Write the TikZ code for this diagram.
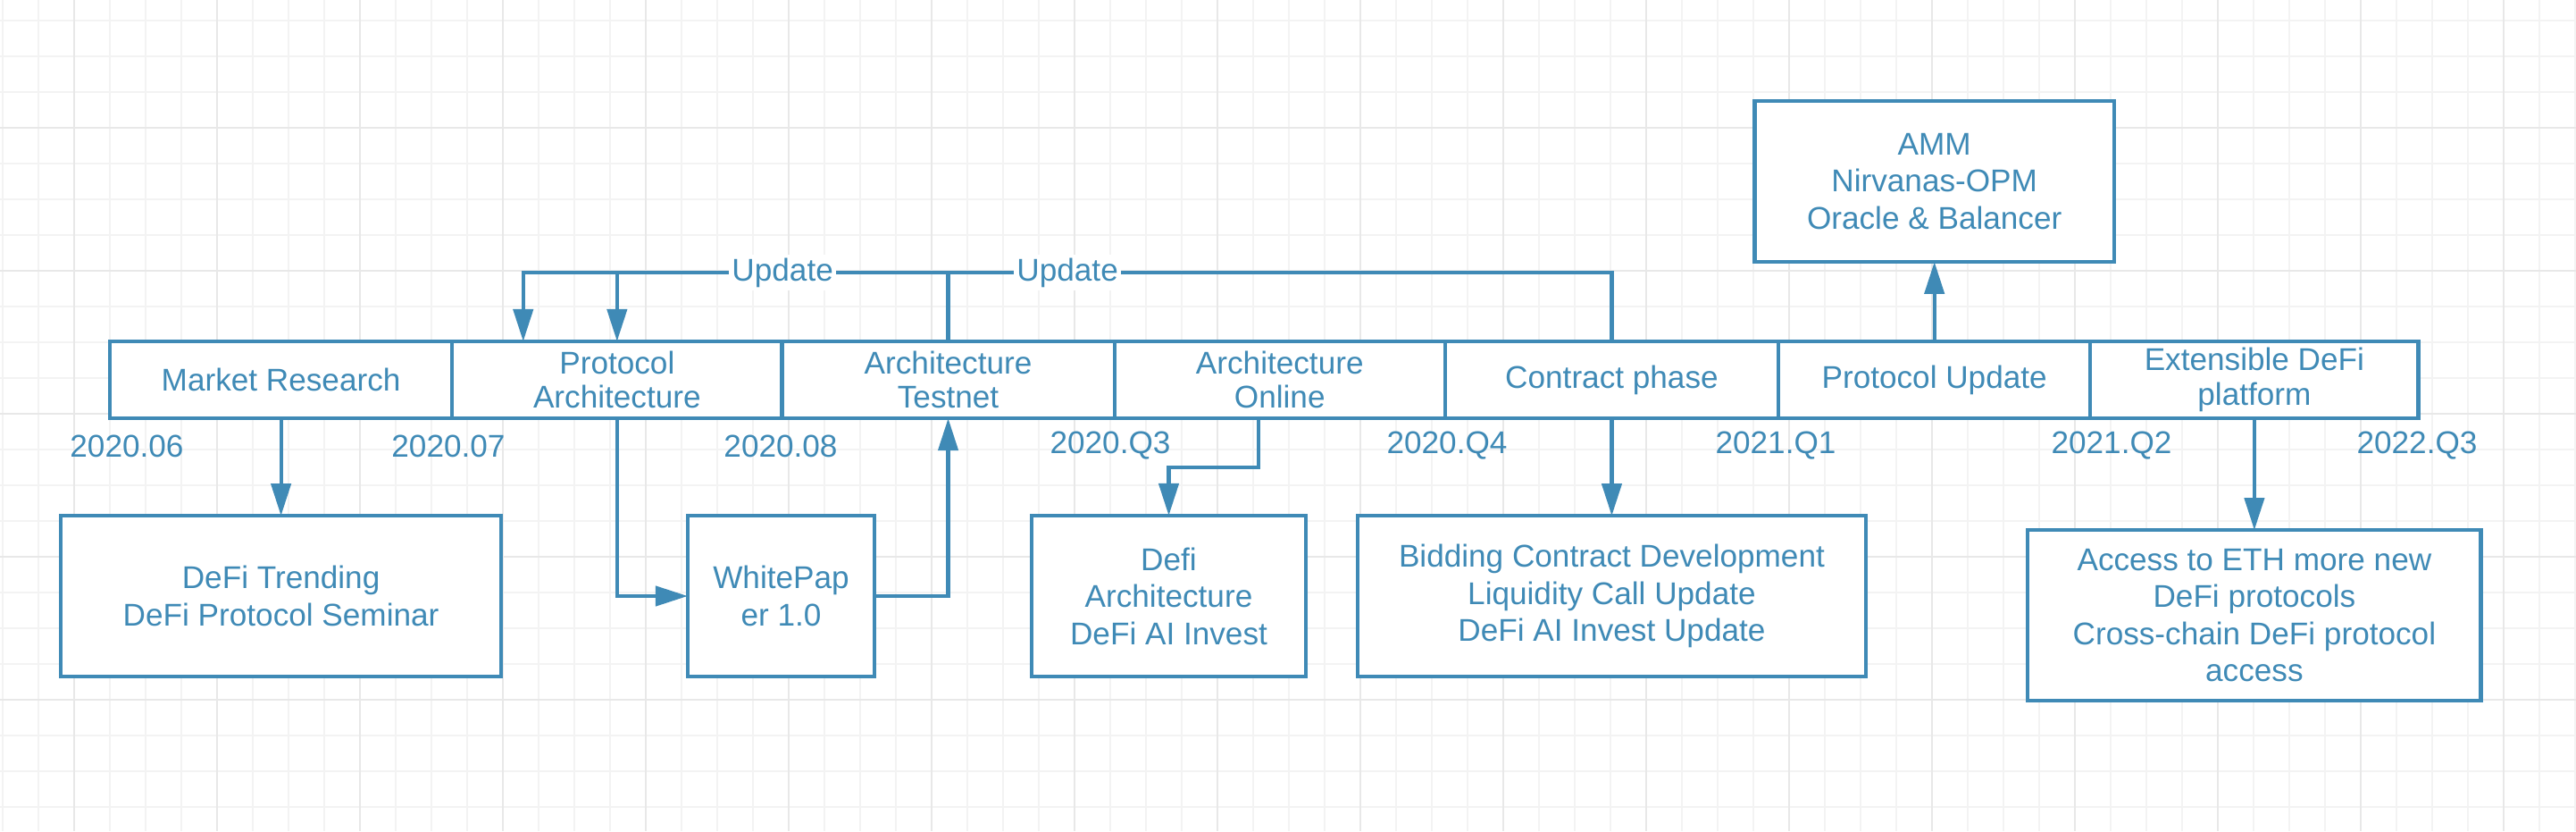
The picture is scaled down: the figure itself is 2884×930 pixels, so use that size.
\documentclass[tikz,border=0pt]{standalone}
\usepackage{fontspec}
\setmainfont{Liberation Sans}
\usetikzlibrary{arrows.meta, positioning}
\definecolor{lineblue}{HTML}{3F8AB6}
\definecolor{gridminor}{HTML}{F3F3F3}
\definecolor{gridmajor}{HTML}{E8E8E8}

\begin{document}
\begin{tikzpicture}[
    x=0.01cm, y=-0.01cm,
    phase/.style={rectangle, draw=lineblue, line width=1.2pt, fill=white, outer sep=0pt, inner xsep=2pt, inner ysep=1pt, minimum height=0.86cm, align=center, text=lineblue, font=\fontsize{10}{11}\selectfont},
    detail/.style={rectangle, draw=lineblue, line width=1.2pt, fill=white, outer sep=0pt, minimum height=1.8cm, align=center, text=lineblue, font=\fontsize{10}{11.8}\selectfont},
    date/.style={text=lineblue, font=\fontsize{10}{12}\selectfont},
    tag/.style={fill=white, inner sep=1pt, text=lineblue, font=\fontsize{10}{12}\selectfont},
    arrow/.style={draw=lineblue, line width=1.2pt, -{Triangle[length=0.36cm, width=0.22cm]}}
  ]
    \useasboundingbox (0,0) rectangle (2884,930);
    % grid paper
    \fill[white] (0,0) rectangle (2884,930);
    \foreach \x in {3,43,...,2883} \draw[gridminor, line width=0.4pt] (\x,0) -- (\x,930);
    \foreach \y in {23,63,...,903} \draw[gridminor, line width=0.4pt] (0,\y) -- (2884,\y);
    \foreach \x in {83,243,...,2803} \draw[gridmajor, line width=0.5pt] (\x,0) -- (\x,930);
    \foreach \y in {143,303,...,783} \draw[gridmajor, line width=0.5pt] (0,\y) -- (2884,\y);

    % timeline
    \node[phase, minimum width=3.83cm, anchor=north west] (mr) at (123,382) {Market Research};
    \node[phase, minimum width=3.69cm, right=0pt of mr] (pa) {Protocol\\Architecture};
    \node[phase, minimum width=3.72cm, right=0pt of pa] (at) {Architecture\\Testnet};
    \node[phase, minimum width=3.70cm, right=0pt of at] (ao) {Architecture\\Online};
    \node[phase, minimum width=3.73cm, right=0pt of ao] (cp) {Contract phase};
    \node[phase, minimum width=3.49cm, right=0pt of cp] (pu) {Protocol Update};
    \node[phase, minimum width=3.67cm, right=0pt of pu] (ep) {Extensible DeFi\\platform};

    \foreach \x/\d [count=\i] in {142/2020.06, 502/2020.07, 874/2020.08, 1243/2020.Q3, 1620/2020.Q4, 1988/2021.Q1, 2364/2021.Q2, 2706/2022.Q3}
      \node[date] (date\i) at (\x,499) {\d};

    % details
    \node[detail, minimum width=4.93cm, below=1.09cm of mr] (trend) {DeFi Trending\\DeFi Protocol Seminar};
    \node[detail, minimum width=2.09cm] (wp) at (874.5,667) {WhitePap\\er 1.0};
    \node[detail, minimum width=3.07cm] (defi) at (1308.5,667) {Defi\\Architecture\\DeFi AI Invest};
    \node[detail, minimum width=5.68cm, below=1.09cm of cp] (bid) {Bidding Contract Development\\Liquidity Call Update\\DeFi AI Invest Update};
    \node[detail, minimum width=5.07cm, minimum height=1.91cm, below=1.25cm of ep] (acc) {Access to ETH more new\\DeFi protocols\\Cross-chain DeFi protocol\\access};
    \node[detail, minimum width=4.02cm, above=0.89cm of pu] (amm) {AMM\\Nirvanas-OPM\\Oracle \& Balancer};

    \draw[arrow] (mr) -- (trend);
    \draw[arrow] (pa.south) |- (wp.west);
    \draw[arrow] (wp.east) -| (at.south);
    \coordinate (bend) at (1409,523);
    \draw[arrow] (ao.south -| bend) -- (bend) -| (defi.north);
    \draw[arrow] (cp) -- (bid);
    \draw[arrow] (ep) -- (acc);
    \draw[arrow] (pu) -- (amm);

    % update loops
    \coordinate (upd) at (0,305);
    \draw[arrow] (cp.north) -- (cp.north |- upd) -| ([xshift=-1.05cm]pa.north) node[tag, pos=0.25] {Update};
    \draw[arrow] (at.north) -- (at.north |- upd) -| (pa.north) node[tag, pos=0.25] {Update};
  \end{tikzpicture}
\end{document}
